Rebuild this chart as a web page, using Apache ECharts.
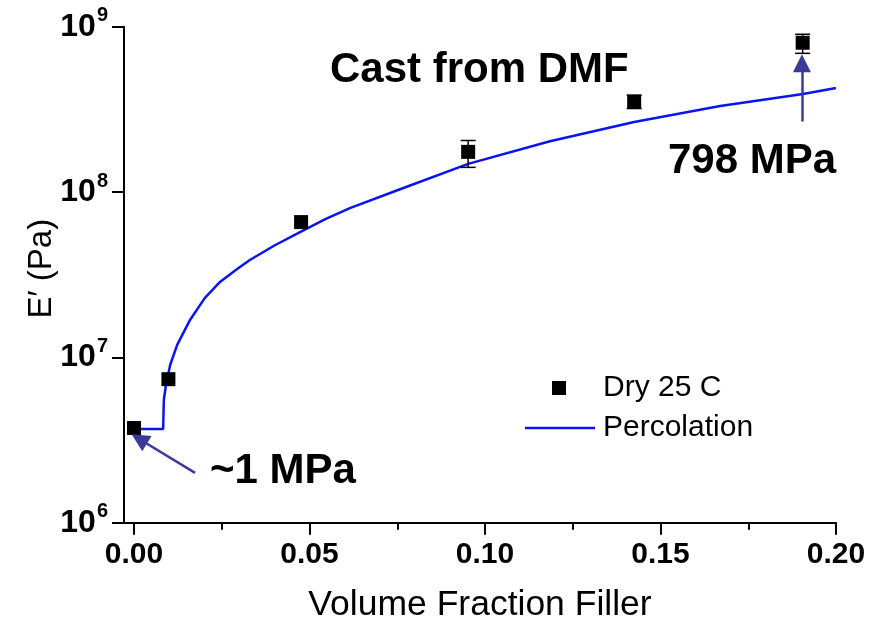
<!DOCTYPE html>
<html>
<head>
<meta charset="utf-8">
<script src="https://cdn.jsdelivr.net/npm/echarts@6/dist/echarts.min.js"></script>
<style>html,body{margin:0;padding:0;background:#fff}#c{width:880px;height:630px}</style>
</head>
<body>
<div id="c"></div>
<script>
// Experimental data: Dry 25 C
const expVolFrac = [0, 0.0098, 0.0476, 0.0952, 0.1425, 0.1905];
const expModulus = [3.74e6, 7.38e6, 6.58e7, 1.75e8, 3.52e8, 8.0e8];
const errLow  = [null, null, null, 1.41e8, 3.2e8, 6.9e8];
const errHigh = [null, null, null, 2.05e8, 3.85e8, 9.0e8];
// Percolation curve
const percVolFrac = [0.0017, 0.0083, 0.0085, 0.0091, 0.0103, 0.0123, 0.0160, 0.0202, 0.0245, 0.0290, 0.0330, 0.0400, 0.0473, 0.0545, 0.0615, 0.0758, 0.0952, 0.1185, 0.1425, 0.1670, 0.1906, 0.2000];
const percModulus = [3.69e6, 3.69e6, 5.52e6, 6.81e6, 8.99e6, 1.19e7, 1.69e7, 2.29e7, 2.86e7, 3.38e7, 3.88e7, 4.75e7, 5.72e7, 6.85e7, 8.0e7, 1.04e8, 1.48e8, 2.03e8, 2.65e8, 3.31e8, 3.92e8, 4.26e8];
// Axis ticks
const xMajorTicks = [0, 0.05, 0.10, 0.15, 0.20];
const xMinorTicks = [0.025, 0.075, 0.125, 0.175];
const yMin = 1e6, yMax = 1e9;
// Annotation arrows [tail, tip]
const arrowLowMPa = [[0.0174, 2.0e6], [0.0015, 3.21e6]];
const arrowHighMPa = [[0.1903, 2.67e8], [0.1903, 6.01e8]];
const seriesNames = ['Dry 25 C', 'Percolation'];

const FONT = '"Liberation Sans", Arial, sans-serif';
const xMin = -0.00285, xMax = 0.2;

const chart = echarts.init(document.getElementById('c'), null, {renderer: 'canvas'});

const scatterData = expVolFrac.map((x, i) => [x, expModulus[i]]);
const errData = [];
expVolFrac.forEach((x, i) => { if (errLow[i] != null) errData.push([x, errLow[i], errHigh[i]]); });
const lineData = percVolFrac.map((x, i) => [x, percModulus[i]]);

const arrowColor = '#3a3a98';
const lineColor = '#0a14f0';

const option = {
  animation: false,
  backgroundColor: '#fff',
  grid: {left: 124, right: 44, top: 26.7, bottom: 107.3, containLabel: false},
  xAxis: [{
    type: 'value', min: xMin, max: xMax,
    name: 'Volume Fraction Filler', nameLocation: 'middle', nameGap: 65,
    nameTextStyle: {fontFamily: FONT, fontSize: 35.5, color: '#000'},
    axisLine: {show: true, onZero: false, lineStyle: {color: '#000', width: 2}},
    axisTick: {show: true, length: 12, lineStyle: {color: '#000', width: 2}, customValues: xMajorTicks},
    axisLabel: {show: true, customValues: xMajorTicks, margin: 17, fontFamily: FONT, fontWeight: 'bold', fontSize: 30, color: '#000',
      formatter: v => v.toFixed(2)},
    splitLine: {show: false}
  }, {
    type: 'value', min: xMin, max: xMax, position: 'bottom',
    axisLine: {show: false, onZero: false},
    axisTick: {show: true, length: 7, lineStyle: {color: '#000', width: 2}, customValues: xMinorTicks},
    axisLabel: {show: false},
    splitLine: {show: false}
  }],
  yAxis: {
    type: 'log', min: yMin, max: yMax, logBase: 10,
    name: 'E\u2032 (Pa)', nameLocation: 'middle', nameGap: 66, nameRotate: 90, nameMoveOverlap: false,
    nameTextStyle: {fontFamily: FONT, fontSize: 33, color: '#000', padding: [0, 0, 0, 12]},
    axisLine: {show: true, onZero: false, lineStyle: {color: '#000', width: 2}},
    axisTick: {show: true, length: 12, lineStyle: {color: '#000', width: 2}},
    minorTick: {show: false},
    axisLabel: {
      margin: 16,
      formatter: v => '{b|10}{s|' + Math.round(Math.log10(v)) + '}',
      rich: {
        b: {fontFamily: FONT, fontWeight: 'bold', fontSize: 32, color: '#000', lineHeight: 32},
        s: {fontFamily: FONT, fontWeight: 'bold', fontSize: 20, color: '#000', lineHeight: 20, padding: [0, 0, 22, 1]}
      }
    },
    splitLine: {show: false}
  },
  legend: [{
    show: true, left: 547, top: 368,
    itemWidth: 14, itemHeight: 14,
    data: [{name: seriesNames[0], icon: 'rect', itemStyle: {color: '#000', opacity: 1}}],
    textStyle: {fontFamily: FONT, fontSize: 30, color: '#000', padding: [0, 0, 0, 32]},
    selectedMode: false
  }, {
    show: true, left: 520, top: 408,
    itemWidth: 70, itemHeight: 2.5,
    data: [{name: seriesNames[1], icon: 'rect', itemStyle: {color: lineColor}}],
    textStyle: {fontFamily: FONT, fontSize: 30, color: '#000', padding: [0, 0, 0, 3]},
    selectedMode: false
  }],
  series: [
    {
      name: seriesNames[1], type: 'line', data: lineData, showSymbol: false, symbol: 'none',
      lineStyle: {color: lineColor, width: 2.5}, itemStyle: {color: lineColor}, z: 2, silent: true,
      markLine: {
        silent: true, animation: false,
        symbol: ['none', 'path://M5,0 L10,11 L0,11 Z'], symbolSize: 18,
        label: {show: false},
        lineStyle: {color: arrowColor, width: 2.5, type: 'solid'},
        itemStyle: {color: arrowColor},
        emphasis: {disabled: true},
        data: [
          [{coord: arrowLowMPa[0]}, {coord: arrowLowMPa[1]}],
          [{coord: arrowHighMPa[0]}, {coord: arrowHighMPa[1]}]
        ]
      }
    },
    {
      name: 'err', type: 'custom', data: errData, z: 3, silent: true,
      renderItem: (params, api) => {
        const x = api.value(0);
        const lo = api.coord([x, api.value(1)]);
        const hi = api.coord([x, api.value(2)]);
        const hw = 7.5;
        const st = {stroke: '#000', lineWidth: 1.5};
        return {type: 'group', children: [
          {type: 'line', shape: {x1: lo[0], y1: lo[1], x2: hi[0], y2: hi[1]}, style: st},
          {type: 'line', shape: {x1: lo[0] - hw, y1: lo[1], x2: lo[0] + hw, y2: lo[1]}, style: st},
          {type: 'line', shape: {x1: hi[0] - hw, y1: hi[1], x2: hi[0] + hw, y2: hi[1]}, style: st}
        ]};
      }
    },
    {
      name: seriesNames[0], type: 'scatter', data: scatterData, symbol: 'rect', symbolSize: 14,
      itemStyle: {color: '#000', opacity: 1}, z: 4, silent: true
    }
  ],
  graphic: [
    {type: 'text', left: 330, top: 49, style: {text: 'Cast from DMF', font: 'bold 42px ' + FONT, fill: '#000'}},
    {type: 'text', left: 668, top: 140, style: {text: '798 MPa', font: 'bold 42px ' + FONT, fill: '#000'}},
    {type: 'text', left: 210, top: 450, style: {text: '~1 MPa', font: 'bold 42px ' + FONT, fill: '#000'}}
  ]
};
chart.setOption(option);
</script>
</body>
</html>
